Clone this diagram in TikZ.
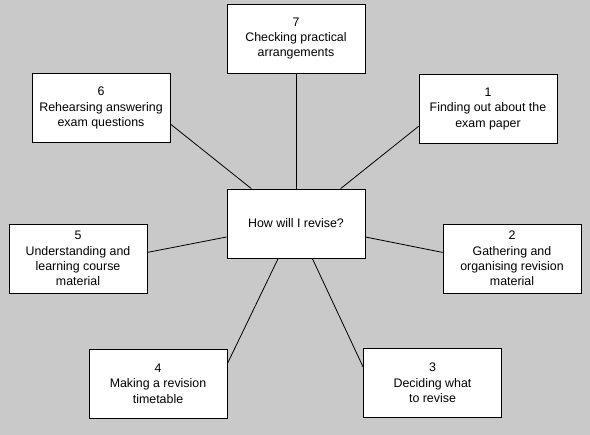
\documentclass[tikz,border=0pt]{standalone}
\usepackage{fontspec}
\setmainfont{Liberation Sans}
\definecolor{bggray}{gray}{0.79}

\begin{document}
\begin{tikzpicture}[x=1pt, y=-1pt,
    box/.style={draw=black, fill=white, line width=0.8pt, minimum width=138pt,
                minimum height=69pt, inner sep=0pt, align=center,
                font=\fontsize{12.4}{15.3}\selectfont},
    spoke/.style={line width=0.8pt}]
    \fill[bggray] (0,0) rectangle (590,435);
    \node[box] (hub) at (296,223.5) {How will I revise?};
    \node[box] (seven) at (296,38.5) {7\\Checking practical\\arrangements};
    \node[box] (six) at (101,108) {6\\Rehearsing answering\\exam questions};
    \node[box] (one) at (488,109) {1\\Finding out about the\\exam paper};
    \node[box] (five) at (78,258.5) {5\\Understanding and\\learning course\\material};
    \node[box] (two) at (512,258.5) {2\\Gathering and\\organising revision\\material};
    \node[box] (four) at (158,383.5) {4\\Making a revision\\timetable};
    \node[box] (three) at (432.5,383) {3\\Deciding what\\to revise};
    \draw[spoke] (hub.north) -- (seven.south);
    \draw[spoke] (hub.142) -- (six.-13);
    \draw[spoke] (hub.38) -- (one.-166);
    \draw[spoke] (hub.191) -- (five.5);
    \draw[spoke] (hub.-11) -- (two.175);
    \draw[spoke] (hub.-117) -- (four.16);
    \draw[spoke] (hub.-65) -- (three.167);
\end{tikzpicture}
\end{document}
